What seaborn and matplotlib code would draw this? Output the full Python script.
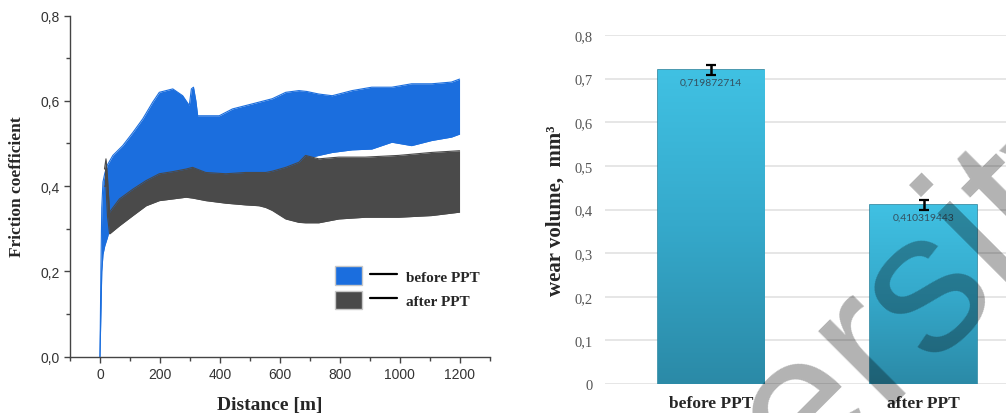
import numpy as np
import pandas as pd
import matplotlib
matplotlib.use("Agg")
import matplotlib.pyplot as plt
import seaborn as sns
from matplotlib.patches import Patch
from matplotlib.lines import Line2D
from matplotlib.legend_handler import HandlerTuple
from matplotlib.ticker import MultipleLocator, FuncFormatter
from matplotlib.colors import LinearSegmentedColormap

# friction coefficient envelopes
blue_dist = [0, 3, 6, 10, 16, 25, 43, 76, 110, 143, 176, 198, 243, 276, 298, 305, 312, 320,
             326, 353, 398, 442, 509, 575, 620, 664, 690, 730, 775, 841, 907, 974, 1040,
             1107, 1173, 1200]
blue_hi = [0.0, 0.20, 0.35, 0.41, 0.43, 0.45, 0.472, 0.495, 0.526, 0.558, 0.597, 0.620, 0.628,
           0.612, 0.589, 0.628, 0.632, 0.60, 0.565, 0.565, 0.565, 0.581, 0.593, 0.605, 0.620,
           0.624, 0.622, 0.616, 0.612, 0.624, 0.632, 0.632, 0.640, 0.640, 0.644, 0.651]
blue_lo = [0.0, 0.10, 0.20, 0.24, 0.26, 0.28, 0.33, 0.36, 0.38, 0.40, 0.41, 0.42, 0.42, 0.42,
           0.42, 0.42, 0.42, 0.42, 0.42, 0.42, 0.42, 0.42, 0.42, 0.43, 0.44, 0.45, 0.465, 0.472,
           0.479, 0.485, 0.487, 0.503, 0.495, 0.507, 0.515, 0.522]

gray_dist = [15, 20, 25, 32, 65, 110, 154, 198, 243, 287, 309, 353, 420, 486, 531, 553, 575,
             620, 664, 686, 730, 797, 885, 996, 1107, 1200]
gray_hi = [0.44, 0.464, 0.42, 0.339, 0.37, 0.393, 0.413, 0.429, 0.434, 0.44, 0.444, 0.432,
           0.429, 0.432, 0.432, 0.432, 0.435, 0.444, 0.456, 0.472, 0.464, 0.468, 0.468, 0.472,
           0.479, 0.483]
gray_lo = [0.40, 0.40, 0.33, 0.288, 0.307, 0.331, 0.354, 0.366, 0.370, 0.374, 0.372, 0.366,
           0.36, 0.356, 0.354, 0.35, 0.343, 0.323, 0.315, 0.314, 0.314, 0.323, 0.327, 0.327,
           0.331, 0.339]

# wear volume
categories = ["before PPT", "after PPT"]
wear = [0.719872714, 0.410319443]
wear_err = [0.012, 0.012]

BLUE = "#1b6ede"
GRAY = "#4a4a4a"
SERIF = ["Liberation Serif", "DejaVu Serif"]

sns.set_style("white")
plt.rcParams["font.family"] = ["Liberation Sans", "DejaVu Sans"]

fig = plt.figure(figsize=(10.06, 4.14), dpi=100)
ax1 = fig.add_axes([0.0696, 0.136, 0.417, 0.824])
ax2 = fig.add_axes([0.601, 0.070, 0.399, 0.843])

# ---- left: friction coefficient ----
df_b = pd.DataFrame({"d": blue_dist, "lo": blue_lo, "hi": blue_hi})
df_g = pd.DataFrame({"d": gray_dist, "lo": gray_lo, "hi": gray_hi})

ax1.fill_between(df_b["d"], df_b["lo"], df_b["hi"], color=BLUE, lw=0, zorder=2)
sns.lineplot(data=df_b, x="d", y="hi", color=BLUE, lw=0.8, ax=ax1, zorder=2)
sns.lineplot(data=df_b, x="d", y="lo", color=BLUE, lw=0.8, ax=ax1, zorder=2)
ax1.fill_between(df_g["d"], df_g["lo"], df_g["hi"], color=GRAY, lw=0, zorder=3)
sns.lineplot(data=df_g, x="d", y="hi", color=GRAY, lw=0.8, ax=ax1, zorder=3)
sns.lineplot(data=df_g, x="d", y="lo", color=GRAY, lw=0.8, ax=ax1, zorder=3)

ax1.set_xlim(-100, 1300)
ax1.set_ylim(0, 0.8)
ax1.set_xticks(range(0, 1201, 200))
ax1.xaxis.set_minor_locator(MultipleLocator(100))
ax1.yaxis.set_major_locator(MultipleLocator(0.2))
ax1.yaxis.set_minor_locator(MultipleLocator(0.1))
ax1.yaxis.set_major_formatter(FuncFormatter(lambda v, p: f"{v:.1f}".replace(".", ",")))
ax1.tick_params(which="both", bottom=True, left=True, direction="out", color="#444444",
                labelcolor="#333333", labelsize=10)
ax1.tick_params(which="major", length=4, width=1)
ax1.tick_params(which="minor", length=3, width=1)
for s in ["top", "right"]:
    ax1.spines[s].set_visible(False)
for s in ["left", "bottom"]:
    ax1.spines[s].set_color("#444444")
    ax1.spines[s].set_linewidth(1)

ax1.set_xlabel("Distance [m]", family=SERIF, fontweight="bold", fontsize=14)
ax1.set_ylabel("Friction coefficient", family=SERIF, fontweight="bold", fontsize=12.5)
ax1.xaxis.set_label_coords(0.476, -0.115)
ax1.yaxis.set_label_coords(-0.107, 0.5)

handles = [(Patch(facecolor=BLUE, edgecolor="#c8c8c8"), Line2D([], [], color="black", lw=1.6)),
           (Patch(facecolor=GRAY, edgecolor="#c8c8c8"), Line2D([], [], color="black", lw=1.6))]
leg = ax1.legend(handles, ["before PPT", "after PPT"],
                 handler_map={tuple: HandlerTuple(ndivide=None, pad=0.5)},
                 loc="lower right", bbox_to_anchor=(1.01, 0.1), frameon=False,
                 handlelength=4.1, handleheight=1.45, labelspacing=0.4, handletextpad=0.6,
                 prop={"family": SERIF, "weight": "bold", "size": 11})

# ---- right: wear volume ----
df_w = pd.DataFrame({"cat": categories, "wear": wear})
sns.barplot(data=df_w, x="cat", y="wear", width=0.5, color="#37b2d6", edgecolor="#2a87a2",
            linewidth=1.2, errorbar=None, ax=ax2, zorder=2)

cmap = LinearSegmentedColormap.from_list("bar", ["#2b8aa7", "#35a9cb", "#40c1e3"])
grad = np.linspace(0, 1, 256).reshape(-1, 1)
for p in ax2.patches:
    b = p.get_bbox()
    im = ax2.imshow(grad, extent=[b.x0, b.x1, b.y0, b.y1], origin="lower", aspect="auto",
                    cmap=cmap, zorder=2.5)
    im.set_clip_path(p)

centers = [p.get_x() + p.get_width() / 2 for p in ax2.patches]
ax2.errorbar(centers, wear, yerr=wear_err, fmt="none", ecolor="black", elinewidth=1.8,
             capsize=3.5, capthick=1.6, zorder=5)
for xc, v in zip(centers, wear):
    ax2.text(xc, v - 0.028, f"{v:.9f}".replace(".", ","), ha="center", va="center",
             fontsize=7.5, color="#34505f", family=["Lato", "DejaVu Sans"], zorder=6)

ax2.set_xlim(-0.5, 1.388)
ax2.set_ylim(0, 0.8)
ax2.yaxis.set_major_locator(MultipleLocator(0.1))
ax2.yaxis.set_major_formatter(FuncFormatter(
    lambda v, p: "0" if abs(v) < 1e-9 else f"{v:.1f}".replace(".", ",")))
ax2.grid(axis="y", color="#e2e2e2", lw=1.2, zorder=0)
ax2.set_axisbelow(True)
for s in ax2.spines.values():
    s.set_visible(False)
ax2.tick_params(axis="y", length=0, pad=8.5, labelsize=10.5, labelcolor="#555555")
ax2.tick_params(axis="x", length=0, pad=8)
for t in ax2.get_yticklabels():
    t.set_family(SERIF)
for t in ax2.get_xticklabels():
    t.set_family(SERIF)
    t.set_fontweight("bold")
    t.set_fontsize(12.5)
ax2.set_xlabel("")
ax2.set_ylabel("wear volume,  mm³", family=SERIF, fontweight="bold", fontsize=15)
ax2.yaxis.set_label_coords(-0.097, 0.5)

# watermark
fig.text(0.513, -0.855, "University", fontsize=145, color="black",
         alpha=0.3, rotation=45, rotation_mode="anchor", ha="left", va="baseline",
         family=["Liberation Sans", "DejaVu Sans"], zorder=20)

fig.savefig("out.png", dpi=100)
